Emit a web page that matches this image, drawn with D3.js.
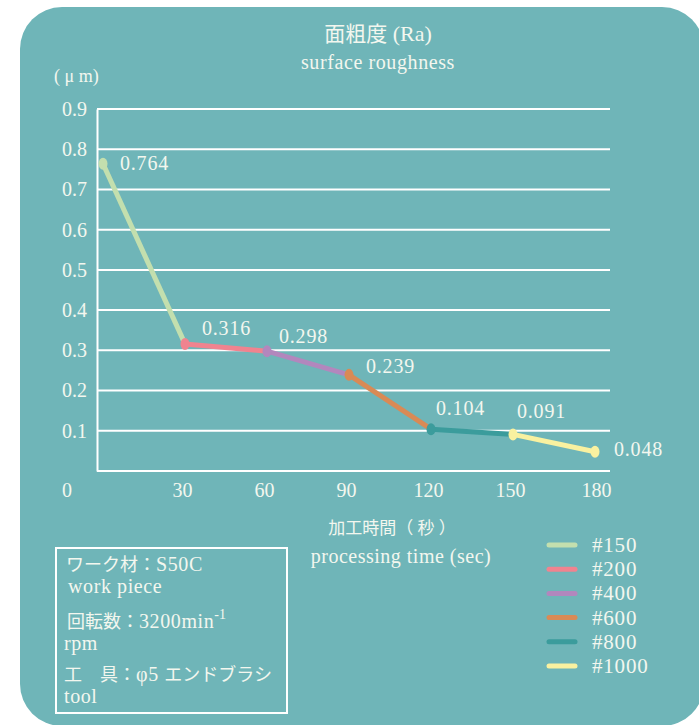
<!DOCTYPE html>
<html lang="ja">
<head>
<meta charset="utf-8">
<title>面粗度 (Ra)</title>
<script src="https://d3js.org/d3.v7.min.js"></script>
<style>
  html, body { margin: 0; padding: 0; background: #ffffff; }
  svg { display: block; }
  text { fill: #f3f7ef; font-family: "Liberation Serif", "Noto Sans CJK JP", serif; }
</style>
</head>
<body>
<svg id="chart"></svg>
<script>
// data
const times = [0, 30, 60, 90, 120, 150, 180];
const roughness = [0.764, 0.316, 0.298, 0.239, 0.104, 0.091, 0.048];
const grits = ["#150", "#200", "#400", "#600", "#800", "#1000"];
const gritColors = ["#c3dfae", "#f0838f", "#b287bd", "#d98a55", "#3b9c9c", "#f9f1a0"];
const yTicks = [0.1, 0.2, 0.3, 0.4, 0.5, 0.6, 0.7, 0.8, 0.9];
const xTicks = [30, 60, 90, 120, 150, 180];
const infoLines = [
    "ワーク材：S50C",
    "work piece",
    "回転数：3200min",
    "rpm",
    "工　具：φ5 エンドブラシ",
    "tool"
];

// label nudges (px) for the value labels
const labelOffsets = [[17, 6], [17, -9], [12, -8], [17, -2], [5, -14], [4, -16], [19, 4]];

const width = 699;
const height = 725;

const cjk = /([\u3000-\u30ff\u4e00-\u9fff\uff00-\uffef]+)/;

// split a string into CJK / latin runs so each gets its own font
function richText(sel, str, cjkSize, latinSize, spacing) {
    str.split(cjk).filter(s => s.length).forEach(part => {
        const isCjk = cjk.test(part);
        sel.append("tspan")
            .attr("font-family", isCjk ? "Noto Sans CJK JP" : "Liberation Serif")
            .attr("font-size", isCjk ? cjkSize : latinSize)
            .attr("letter-spacing", isCjk ? 0 : (spacing || 0))
            .text(part);
    });
    return sel;
}

const svg = d3.select("#chart")
    .attr("width", width)
    .attr("height", height);

// background card
svg.append("rect")
    .attr("x", 20)
    .attr("y", 7)
    .attr("width", 684)
    .attr("height", 719)
    .attr("rx", 42)
    .attr("fill", "#6fb5b8");

const x = d3.scaleLinear().domain([0, 180]).range([103, 595]);
const y = d3.scaleLinear().domain([0, 0.9]).range([471, 109]);

// grid lines
svg.append("g")
    .selectAll("line")
    .data(yTicks)
    .enter()
    .append("line")
    .attr("x1", 97)
    .attr("x2", 610)
    .attr("y1", d => y(d))
    .attr("y2", d => y(d))
    .attr("stroke", "#ffffff")
    .attr("stroke-width", 2);

// axes
const yAxis = svg.append("g")
    .attr("transform", "translate(97,0)")
    .call(d3.axisLeft(y).tickValues(yTicks).tickFormat(d3.format(".1f")).tickSize(0).tickPadding(10));
yAxis.select(".domain").attr("stroke", "#ffffff").attr("stroke-width", 2);
yAxis.selectAll("text").attr("font-size", 20).attr("fill", "#f3f7ef")
    .attr("font-family", "Liberation Serif");

const xAxis = svg.append("g")
    .attr("transform", `translate(0,${y(0)})`)
    .call(d3.axisBottom(x).tickValues(xTicks).tickSize(0).tickPadding(12));
xAxis.select(".domain")
    .attr("d", `M97,0H610`)
    .attr("stroke", "#ffffff").attr("stroke-width", 2);
xAxis.selectAll("text").attr("font-size", 20).attr("fill", "#f3f7ef")
    .attr("font-family", "Liberation Serif")
    .attr("dx", d => d === 180 ? 1 : -3);

// "0" corner label sits in the y-label column
svg.append("text")
    .attr("x", 67)
    .attr("y", y(0) + 26)
    .attr("text-anchor", "middle")
    .attr("font-size", 20)
    .text("0");

// segments, one per grit
const points = times.map((t, i) => ({t: t, v: roughness[i]}));
svg.append("g")
    .selectAll("line")
    .data(grits)
    .enter()
    .append("line")
    .attr("x1", (d, i) => x(points[i].t))
    .attr("y1", (d, i) => y(points[i].v))
    .attr("x2", (d, i) => x(points[i + 1].t))
    .attr("y2", (d, i) => y(points[i + 1].v))
    .attr("stroke", (d, i) => gritColors[i])
    .attr("stroke-width", 5);

svg.append("g")
    .selectAll("ellipse")
    .data(points)
    .enter()
    .append("ellipse")
    .attr("cx", d => x(d.t))
    .attr("cy", d => y(d.v))
    .attr("rx", 4.5)
    .attr("ry", 6)
    .attr("fill", (d, i) => gritColors[Math.min(i, gritColors.length - 1)]);

svg.append("g")
    .selectAll("text")
    .data(points)
    .enter()
    .append("text")
    .attr("x", (d, i) => x(d.t) + labelOffsets[i][0])
    .attr("y", (d, i) => y(d.v) + labelOffsets[i][1])
    .attr("font-size", 20)
    .attr("letter-spacing", 0.8)
    .text(d => d3.format(".3f")(d.v));

// titles
richText(svg.append("text")
    .attr("x", 378).attr("y", 41)
    .attr("text-anchor", "middle"), "面粗度 (Ra)", 21, 22, 0);
svg.append("text")
    .attr("x", 378).attr("y", 69)
    .attr("text-anchor", "middle")
    .attr("font-size", 20)
    .attr("letter-spacing", 0.6)
    .text("surface roughness");
svg.append("text")
    .attr("x", 54).attr("y", 82)
    .attr("font-size", 18)
    .text("( μ m)");

richText(svg.append("text")
    .attr("x", 392).attr("y", 534)
    .attr("text-anchor", "middle"), "加工時間（ 秒 ）", 17, 17, 0);
svg.append("text")
    .attr("x", 401).attr("y", 563)
    .attr("text-anchor", "middle")
    .attr("font-size", 20)
    .attr("letter-spacing", 0.5)
    .text("processing time (sec)");

// legend
const legend = svg.append("g")
    .selectAll("g")
    .data(grits)
    .enter()
    .append("g")
    .attr("transform", (d, i) => `translate(547,${545 + i * 24.2})`);
legend.append("line")
    .attr("x1", 2).attr("x2", 28)
    .attr("stroke", (d, i) => gritColors[i])
    .attr("stroke-width", 5)
    .attr("stroke-linecap", "round");
legend.append("text")
    .attr("x", 45).attr("y", 7)
    .attr("font-size", 21)
    .attr("letter-spacing", 0.8)
    .text(d => d);

// info box
svg.append("rect")
    .attr("x", 56).attr("y", 548)
    .attr("width", 231).attr("height", 165)
    .attr("fill", "none")
    .attr("stroke", "#ffffff")
    .attr("stroke-width", 2);

const infoY = [571, 593, 628, 650, 681, 703];
const infoX = [66, 68, 67, 64, 64, 64];
const info = svg.append("g")
    .selectAll("text")
    .data(infoLines)
    .enter()
    .append("text")
    .attr("x", (d, i) => infoX[i])
    .attr("y", (d, i) => infoY[i])
    .each(function(d) {
        richText(d3.select(this), d, 18, 20, 0.6);
    });
info.filter((d, i) => i === 2)
    .append("tspan")
    .attr("dy", -9)
    .attr("font-size", 14)
    .text("-1");
</script>
</body>
</html>
